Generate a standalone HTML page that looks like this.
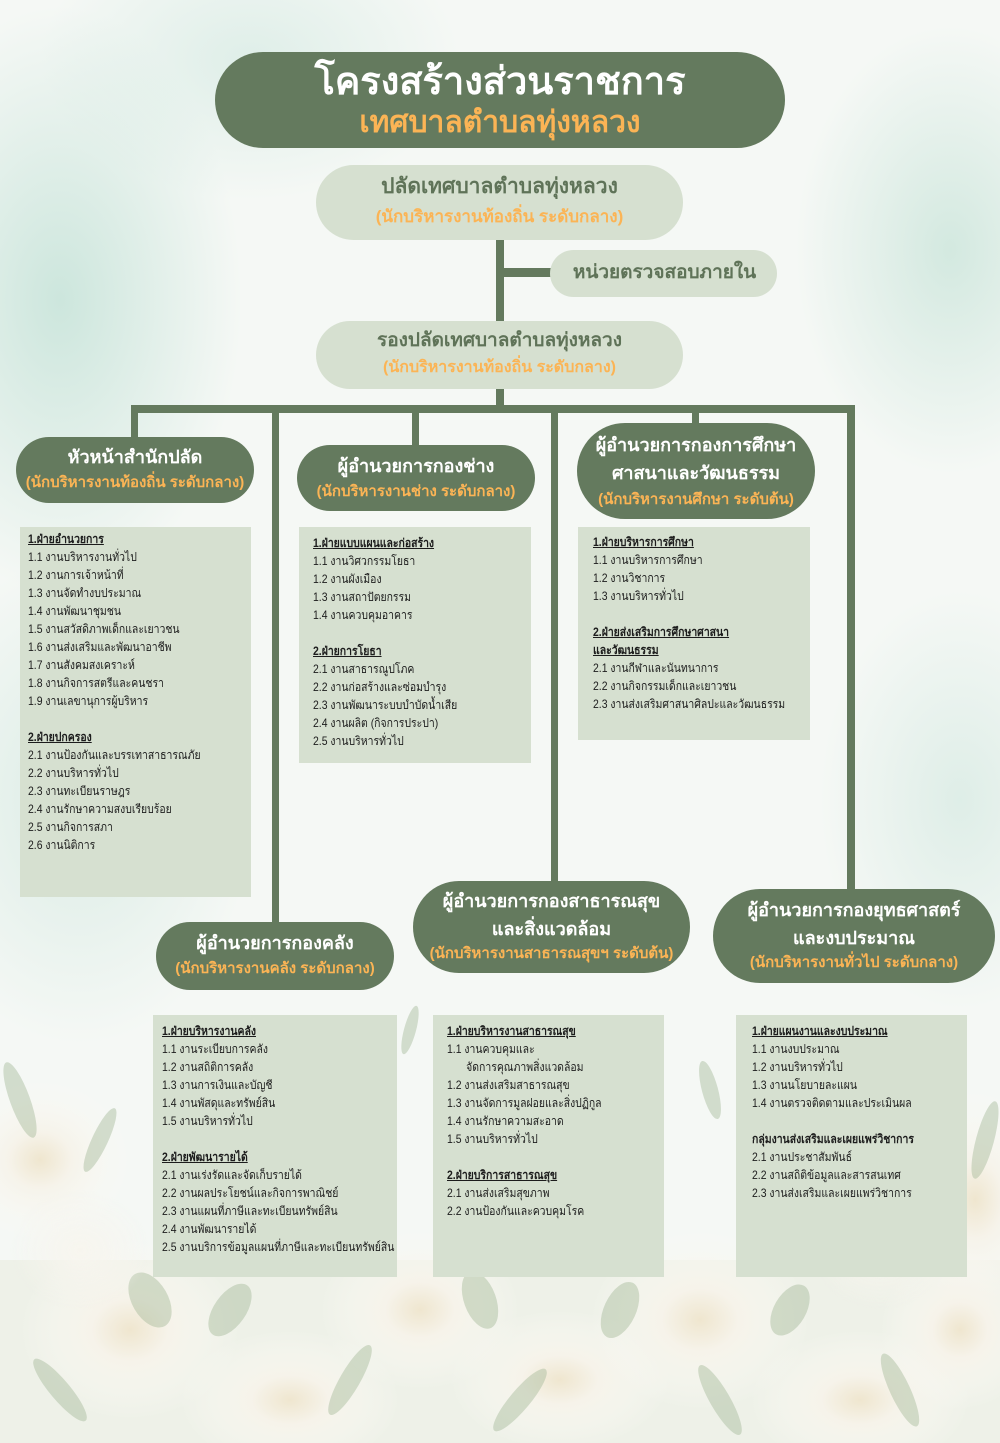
<!DOCTYPE html>
<html><head><meta charset="utf-8">
<style>
*{margin:0;padding:0;box-sizing:border-box}
html,body{width:1000px;height:1443px;overflow:hidden}
body{position:relative;font-family:"Liberation Sans","DejaVu Sans",sans-serif;
background:
radial-gradient(ellipse 260px 420px at 60px 300px, rgba(200,228,218,0.9), rgba(200,228,218,0) 70%),
radial-gradient(ellipse 220px 320px at 950px 250px, rgba(205,230,220,0.85), rgba(205,230,220,0) 70%),
radial-gradient(ellipse 300px 200px at 250px 60px, rgba(215,235,228,0.75), rgba(215,235,228,0) 70%),
radial-gradient(ellipse 250px 350px at 80px 800px, rgba(210,232,224,0.75), rgba(210,232,224,0) 70%),
radial-gradient(ellipse 200px 300px at 960px 800px, rgba(210,232,224,0.65), rgba(210,232,224,0) 70%),
#f5f8f5;}
.abs{position:absolute}
.ln{position:absolute;background:#647a5e}
.dk{position:absolute;background:#647a5e;border-radius:50px}
.lt{position:absolute;background:#d6e0d0;border-radius:40px}
.t{position:absolute;left:0;width:100%;text-align:center;white-space:nowrap;font-weight:bold}
.w{color:#ffffff}
.o{color:#fbb455}
.g{color:#5f7358}
.cb{position:absolute;background:#d6e0d0;font-size:12px;line-height:18px;color:#1c1c1c;white-space:nowrap;overflow:visible}
.cb .in{transform:scaleX(0.87);transform-origin:0 0;width:120%}
.cb b{text-decoration:underline;font-weight:bold}
.cb .nb{text-decoration:none}
</style></head><body>

<!-- flowers background -->
<svg class="abs" style="left:0;top:0" width="1000" height="1443" viewBox="0 0 1000 1443">
 <defs>
  <radialGradient id="fl" cx="50%" cy="50%" r="50%">
   <stop offset="0" stop-color="#efe6cf"/>
   <stop offset="0.35" stop-color="#f6f3ea"/>
   <stop offset="1" stop-color="#fbfaf5" stop-opacity="0"/>
  </radialGradient>
  <radialGradient id="fl2" cx="50%" cy="50%" r="50%">
   <stop offset="0" stop-color="#f7f5ee"/>
   <stop offset="1" stop-color="#f7f5ee" stop-opacity="0"/>
  </radialGradient>
 </defs>
 <rect x="0" y="1260" width="1000" height="183" fill="#eef1e8"/>
 <g fill="url(#fl)">
  <ellipse cx="40" cy="1160" rx="90" ry="80"/>
  <ellipse cx="130" cy="1330" rx="110" ry="90"/>
  <ellipse cx="290" cy="1400" rx="110" ry="70"/>
  <ellipse cx="420" cy="1310" rx="100" ry="80"/>
  <ellipse cx="560" cy="1380" rx="110" ry="70"/>
  <ellipse cx="700" cy="1320" rx="110" ry="90"/>
  <ellipse cx="860" cy="1400" rx="110" ry="70"/>
  <ellipse cx="975" cy="1200" rx="80" ry="110"/>
  <ellipse cx="960" cy="1330" rx="80" ry="80"/>
 </g>
 <g fill="#9fb694" opacity="0.42">
  <ellipse cx="20" cy="1100" rx="10" ry="40" transform="rotate(-20 20 1100)"/>
  <ellipse cx="100" cy="1140" rx="8" ry="35" transform="rotate(25 100 1140)"/>
  <ellipse cx="150" cy="1300" rx="18" ry="30" transform="rotate(-30 150 1300)"/>
  <ellipse cx="230" cy="1310" rx="16" ry="30" transform="rotate(35 230 1310)"/>
  <ellipse cx="60" cy="1390" rx="10" ry="40" transform="rotate(-40 60 1390)"/>
  <ellipse cx="350" cy="1380" rx="10" ry="40" transform="rotate(30 350 1380)"/>
  <ellipse cx="480" cy="1300" rx="16" ry="30" transform="rotate(-20 480 1300)"/>
  <ellipse cx="520" cy="1400" rx="10" ry="40" transform="rotate(40 520 1400)"/>
  <ellipse cx="620" cy="1310" rx="16" ry="30" transform="rotate(25 620 1310)"/>
  <ellipse cx="720" cy="1400" rx="10" ry="40" transform="rotate(-30 720 1400)"/>
  <ellipse cx="790" cy="1310" rx="16" ry="28" transform="rotate(30 790 1310)"/>
  <ellipse cx="900" cy="1390" rx="10" ry="40" transform="rotate(-25 900 1390)"/>
  <ellipse cx="985" cy="1140" rx="9" ry="40" transform="rotate(15 985 1140)"/>
  <ellipse cx="410" cy="1030" rx="6" ry="25" transform="rotate(15 410 1030)"/>
  <ellipse cx="710" cy="1090" rx="8" ry="30" transform="rotate(-15 710 1090)"/>
 </g>
 <g fill="url(#fl2)">
  <ellipse cx="80" cy="1250" rx="70" ry="60"/>
  <ellipse cx="880" cy="1250" rx="70" ry="60"/>
 </g>
</svg>

<!-- connectors -->
<div class="ln" style="left:496px;top:238px;width:8px;height:172px"></div>
<div class="ln" style="left:500px;top:268px;width:52px;height:9px"></div>
<div class="ln" style="left:131px;top:405px;width:724px;height:8px"></div>
<div class="ln" style="left:131px;top:405px;width:7px;height:36px"></div>
<div class="ln" style="left:272px;top:405px;width:7px;height:520px"></div>
<div class="ln" style="left:412px;top:405px;width:7px;height:44px"></div>
<div class="ln" style="left:551px;top:405px;width:7px;height:480px"></div>
<div class="ln" style="left:692px;top:405px;width:7px;height:22px"></div>
<div class="ln" style="left:847px;top:405px;width:8px;height:488px"></div>

<!-- title -->
<div class="dk" style="left:215px;top:52px;width:570px;height:96px;border-radius:48px">
 <div class="t w" style="top:7px;height:46px;line-height:46px;font-size:38px;font-family:'Liberation Serif','DejaVu Serif',serif">โครงสร้างส่วนราชการ</div>
 <div class="t o" style="top:52px;height:38px;line-height:38px;font-size:30px;font-family:'Liberation Serif','DejaVu Serif',serif">เทศบาลตำบลทุ่งหลวง</div>
</div>

<!-- ปลัด -->
<div class="lt" style="left:316px;top:165px;width:367px;height:75px;border-radius:38px">
 <div class="t g" style="top:8px;height:28px;line-height:28px;font-size:21px">ปลัดเทศบาลตำบลทุ่งหลวง</div>
 <div class="t o" style="top:40px;height:24px;line-height:24px;font-size:17px">(นักบริหารงานท้องถิ่น ระดับกลาง)</div>
</div>

<div class="lt" style="left:550px;top:250px;width:227px;height:47px;border-radius:24px">
 <div class="t g" style="top:9px;height:28px;line-height:28px;font-size:19px;padding-left:2px">หน่วยตรวจสอบภายใน</div>
</div>

<div class="lt" style="left:316px;top:321px;width:367px;height:68px;border-radius:34px">
 <div class="t g" style="top:6px;height:28px;line-height:28px;font-size:19px">รองปลัดเทศบาลตำบลทุ่งหลวง</div>
 <div class="t o" style="top:36px;height:22px;line-height:22px;font-size:16px">(นักบริหารงานท้องถิ่น ระดับกลาง)</div>
</div>

<!-- division heads -->
<div class="dk" style="left:16px;top:437px;width:238px;height:66px;border-radius:33px">
 <div class="t w" style="top:7px;height:26px;line-height:26px;font-size:18px">หัวหน้าสำนักปลัด</div>
 <div class="t o" style="top:35px;height:22px;line-height:22px;font-size:15px">(นักบริหารงานท้องถิ่น ระดับกลาง)</div>
</div>

<div class="dk" style="left:297px;top:445px;width:238px;height:66px;border-radius:33px">
 <div class="t w" style="top:8px;height:26px;line-height:26px;font-size:18px">ผู้อำนวยการกองช่าง</div>
 <div class="t o" style="top:36px;height:22px;line-height:22px;font-size:15px">(นักบริหารงานช่าง ระดับกลาง)</div>
</div>

<div class="dk" style="left:577px;top:423px;width:238px;height:96px;border-radius:48px">
 <div class="t w" style="top:8px;height:28px;line-height:28px;font-size:18px">ผู้อำนวยการกองการศึกษา</div>
 <div class="t w" style="top:36px;height:28px;line-height:28px;font-size:18px">ศาสนาและวัฒนธรรม</div>
 <div class="t o" style="top:66px;height:22px;line-height:22px;font-size:15px">(นักบริหารงานศึกษา ระดับต้น)</div>
</div>

<div class="dk" style="left:156px;top:922px;width:238px;height:68px;border-radius:34px">
 <div class="t w" style="top:8px;height:26px;line-height:26px;font-size:18px">ผู้อำนวยการกองคลัง</div>
 <div class="t o" style="top:36px;height:22px;line-height:22px;font-size:15px">(นักบริหารงานคลัง ระดับกลาง)</div>
</div>

<div class="dk" style="left:413px;top:881px;width:277px;height:92px;border-radius:46px">
 <div class="t w" style="top:6px;height:28px;line-height:28px;font-size:18px">ผู้อำนวยการกองสาธารณสุข</div>
 <div class="t w" style="top:34px;height:28px;line-height:28px;font-size:18px">และสิ่งแวดล้อม</div>
 <div class="t o" style="top:62px;height:22px;line-height:22px;font-size:15px">(นักบริหารงานสาธารณสุขฯ ระดับต้น)</div>
</div>

<div class="dk" style="left:713px;top:889px;width:282px;height:94px;border-radius:47px">
 <div class="t w" style="top:7px;height:28px;line-height:28px;font-size:18px">ผู้อำนวยการกองยุทธศาสตร์</div>
 <div class="t w" style="top:35px;height:28px;line-height:28px;font-size:18px">และงบประมาณ</div>
 <div class="t o" style="top:63px;height:22px;line-height:22px;font-size:15px">(นักบริหารงานทั่วไป ระดับกลาง)</div>
</div>

<!-- content boxes -->
<div class="cb" style="left:20px;top:527px;width:231px;height:370px;padding:3px 0 0 8px"><div class="in">
<b>1.ฝ่ายอำนวยการ</b><br>
1.1 งานบริหารงานทั่วไป<br>
1.2 งานการเจ้าหน้าที่<br>
1.3 งานจัดทำงบประมาณ<br>
1.4 งานพัฒนาชุมชน<br>
1.5 งานสวัสดิภาพเด็กและเยาวชน<br>
1.6 งานส่งเสริมและพัฒนาอาชีพ<br>
1.7 งานสังคมสงเคราะห์<br>
1.8 งานกิจการสตรีและคนชรา<br>
1.9 งานเลขานุการผู้บริหาร<br>
<br>
<b>2.ฝ่ายปกครอง</b><br>
2.1 งานป้องกันและบรรเทาสาธารณภัย<br>
2.2 งานบริหารทั่วไป<br>
2.3 งานทะเบียนราษฎร<br>
2.4 งานรักษาความสงบเรียบร้อย<br>
2.5 งานกิจการสภา<br>
2.6 งานนิติการ
</div></div>

<div class="cb" style="left:299px;top:527px;width:232px;height:236px;padding:7px 0 0 14px"><div class="in">
<b>1.ฝ่ายแบบแผนและก่อสร้าง</b><br>
1.1 งานวิศวกรรมโยธา<br>
1.2 งานผังเมือง<br>
1.3 งานสถาปัตยกรรม<br>
1.4 งานควบคุมอาคาร<br>
<br>
<b>2.ฝ่ายการโยธา</b><br>
2.1 งานสาธารณูปโภค<br>
2.2 งานก่อสร้างและซ่อมบำรุง<br>
2.3 งานพัฒนาระบบบำบัดน้ำเสีย<br>
2.4 งานผลิต (กิจการประปา)<br>
2.5 งานบริหารทั่วไป
</div></div>

<div class="cb" style="left:578px;top:527px;width:232px;height:213px;padding:6px 0 0 15px"><div class="in">
<b>1.ฝ่ายบริหารการศึกษา</b><br>
1.1 งานบริหารการศึกษา<br>
1.2 งานวิชาการ<br>
1.3 งานบริหารทั่วไป<br>
<br>
<b>2.ฝ่ายส่งเสริมการศึกษาศาสนา</b><br>
<b>และวัฒนธรรม</b><br>
2.1 งานกีฬาและนันทนาการ<br>
2.2 งานกิจกรรมเด็กและเยาวชน<br>
2.3 งานส่งเสริมศาสนาศิลปะและวัฒนธรรม
</div></div>

<div class="cb" style="left:153px;top:1015px;width:244px;height:262px;padding:7px 0 0 9px"><div class="in">
<b>1.ฝ่ายบริหารงานคลัง</b><br>
1.1 งานระเบียบการคลัง<br>
1.2 งานสถิติการคลัง<br>
1.3 งานการเงินและบัญชี<br>
1.4 งานพัสดุและทรัพย์สิน<br>
1.5 งานบริหารทั่วไป<br>
<br>
<b>2.ฝ่ายพัฒนารายได้</b><br>
2.1 งานเร่งรัดและจัดเก็บรายได้<br>
2.2 งานผลประโยชน์และกิจการพาณิชย์<br>
2.3 งานแผนที่ภาษีและทะเบียนทรัพย์สิน<br>
2.4 งานพัฒนารายได้<br>
2.5 งานบริการข้อมูลแผนที่ภาษีและทะเบียนทรัพย์สิน
</div></div>

<div class="cb" style="left:433px;top:1015px;width:231px;height:262px;padding:7px 0 0 14px"><div class="in">
<b>1.ฝ่ายบริหารงานสาธารณสุข</b><br>
1.1 งานควบคุมและ<br>
<span style="padding-left:22px">จัดการคุณภาพสิ่งแวดล้อม</span><br>
1.2 งานส่งเสริมสาธารณสุข<br>
1.3 งานจัดการมูลฝอยและสิ่งปฏิกูล<br>
1.4 งานรักษาความสะอาด<br>
1.5 งานบริหารทั่วไป<br>
<br>
<b>2.ฝ่ายบริการสาธารณสุข</b><br>
2.1 งานส่งเสริมสุขภาพ<br>
2.2 งานป้องกันและควบคุมโรค
</div></div>

<div class="cb" style="left:736px;top:1015px;width:231px;height:262px;padding:7px 0 0 16px"><div class="in">
<b>1.ฝ่ายแผนงานและงบประมาณ</b><br>
1.1 งานงบประมาณ<br>
1.2 งานบริหารทั่วไป<br>
1.3 งานนโยบายละแผน<br>
1.4 งานตรวจติดตามและประเมินผล<br>
<br>
<b class="nb">กลุ่มงานส่งเสริมและเผยแพร่วิชาการ</b><br>
2.1 งานประชาสัมพันธ์<br>
2.2 งานสถิติข้อมูลและสารสนเทศ<br>
2.3 งานส่งเสริมและเผยแพร่วิชาการ
</div></div>

</body></html>
